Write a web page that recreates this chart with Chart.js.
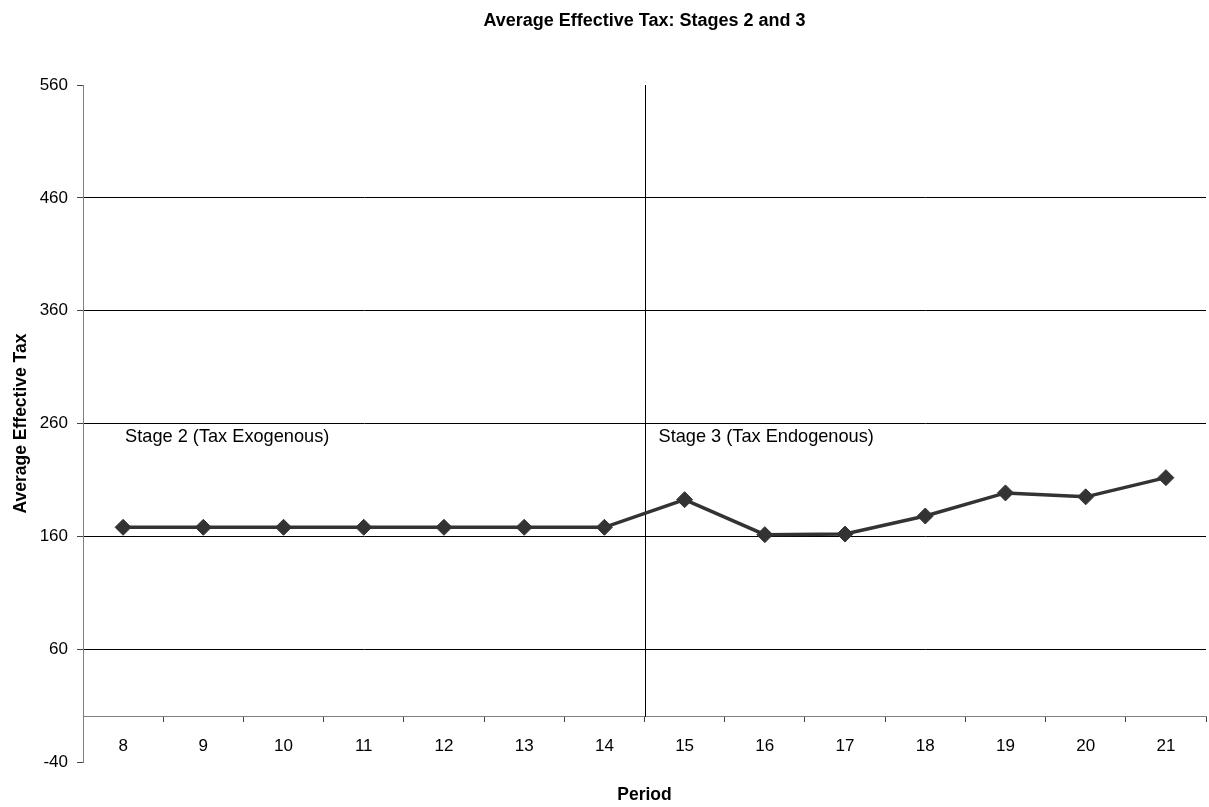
<!DOCTYPE html>
<html lang="en">
<head>
<meta charset="UTF-8">
<title>Average Effective Tax: Stages 2 and 3</title>
<script src="https://cdn.jsdelivr.net/npm/chart.js"></script>
<style>
  html, body { margin: 0; padding: 0; background: #fff; }
  canvas { display: block; }
</style>
</head>
<body>
<canvas id="graficoTax" width="1209" height="807"></canvas>
<script>
    // periods on the x axis and the average effective tax per period
    const periods = ['8', '9', '10', '11', '12', '13', '14', '15', '16', '17', '18', '19', '20', '21'];
    const avgTax = [168, 168, 168, 168, 168, 168, 168, 192.5, 161.5, 162, 178, 198.5, 195, 212];
    const yTicks = [-40, 60, 160, 260, 360, 460, 560];

    // stage captions and the index of the first period of each stage
    const stageNames = ['Stage 2 (Tax Exogenous)', 'Stage 3 (Tax Endogenous)'];
    const stageFirst = [0, 7];

    const FONT = "'Liberation Sans', Arial, sans-serif";

    // divider between the stages, stage captions and the x axis title
    const stagesPlugin = {
        id: 'stages',
        beforeDatasetsDraw(chart) {
            const { ctx, chartArea, scales: { x, y } } = chart;
            const step = x.getPixelForValue(1) - x.getPixelForValue(0);
            const xDiv = Math.round(x.getPixelForValue(stageFirst[1]) - step / 2) + 0.5;

            ctx.save();
            ctx.strokeStyle = '#000';
            ctx.lineWidth = 1;
            ctx.beginPath();
            ctx.moveTo(xDiv, y.getPixelForValue(560));
            ctx.lineTo(xDiv, y.getPixelForValue(0));
            ctx.stroke();

            ctx.fillStyle = '#000';
            ctx.font = '18.2px ' + FONT;
            ctx.textBaseline = 'middle';
            ctx.textAlign = 'left';
            const yText = y.getPixelForValue(248);
            ctx.fillText(stageNames[0], x.getPixelForValue(stageFirst[0]) + 2, yText);
            ctx.fillText(stageNames[1], xDiv + 13, yText);

            ctx.font = 'bold 17.5px ' + FONT;
            ctx.textAlign = 'center';
            ctx.fillText('Period', (chartArea.left + chartArea.right) / 2, chartArea.bottom + 33);
            ctx.restore();
        }
    };

    const ctx = document.getElementById('graficoTax').getContext('2d');

    new Chart(ctx, {
        type: 'line',
        data: {
            labels: periods,
            datasets: [{
                label: 'Average Effective Tax',
                data: avgTax,
                borderColor: '#333333',
                backgroundColor: '#333333',
                borderWidth: 3.5,
                tension: 0,
                pointStyle: 'rectRot',
                pointRadius: 8,
                pointBorderWidth: 1,
                pointBackgroundColor: '#333333',
                pointBorderColor: '#333333'
            }]
        },
        options: {
            responsive: false,
            animation: false,
            layout: { autoPadding: false, padding: { left: 0, top: 0, right: 3, bottom: 45 } },
            plugins: {
                legend: { display: false },
                tooltip: { enabled: false },
                title: {
                    display: true,
                    text: 'Average Effective Tax: Stages 2 and 3',
                    color: '#000',
                    fullSize: false,
                    font: { family: FONT, size: 18, weight: 'bold' },
                    padding: { top: 10, bottom: 53.4 }
                }
            },
            scales: {
                x: {
                    type: 'category',
                    position: { y: 0 },
                    offset: true,
                    grid: {
                        offset: true,
                        drawOnChartArea: false,
                        tickLength: 5,
                        tickColor: '#444'
                    },
                    border: { color: '#808080', width: 1 },
                    ticks: {
                        color: '#000',
                        font: { family: FONT, size: 17 },
                        padding: 14,
                        maxRotation: 0,
                        autoSkip: false
                    }
                },
                y: {
                    position: 'left',
                    min: -40,
                    max: 560,
                    afterBuildTicks(scale) {
                        scale.ticks = yTicks.map(v => ({ value: v }));
                    },
                    afterFit(scale) {
                        scale.width = 83;
                    },
                    grid: {
                        color: c => (c.tick && (c.tick.value === -40 || c.tick.value === 560)) ? 'rgba(0,0,0,0)' : '#000',
                        lineWidth: 1,
                        tickLength: 6,
                        tickColor: '#444'
                    },
                    border: { color: '#808080', width: 1 },
                    ticks: {
                        color: '#000',
                        font: { family: FONT, size: 17 },
                        padding: 9
                    },
                    title: {
                        display: true,
                        text: 'Average Effective Tax',
                        color: '#000',
                        font: { family: FONT, size: 17.5, weight: 'bold' },
                        padding: { top: 11, bottom: 0 }
                    }
                }
            }
        },
        plugins: [stagesPlugin]
    });
</script>
</body>
</html>
